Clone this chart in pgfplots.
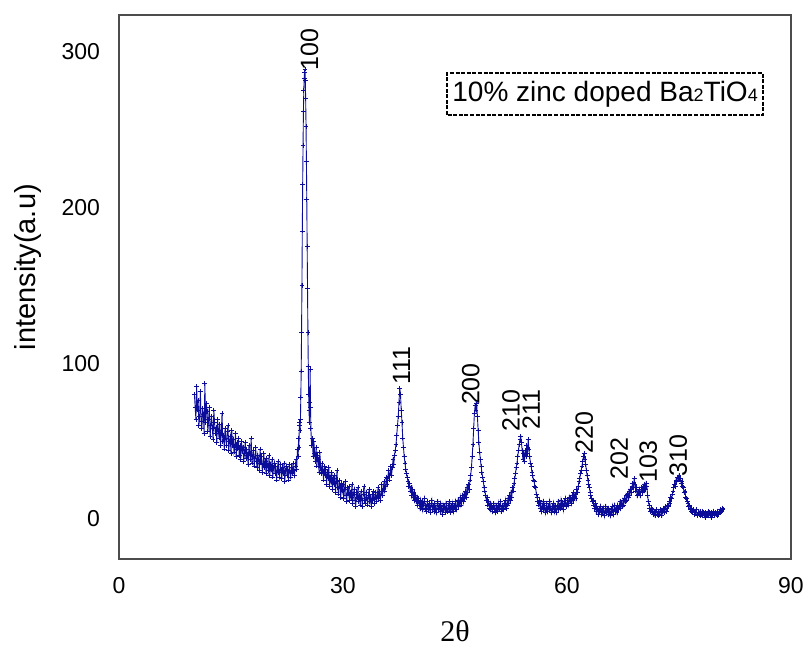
\documentclass[border=0pt]{standalone}
\usepackage{fontspec}
\setmainfont{Liberation Sans}
\newfontfamily\seriffont{Liberation Serif}
\usepackage{pgfplots}
\pgfplotsset{compat=1.18}
\definecolor{xrdblue}{RGB}{12,12,155}
\definecolor{axgray}{gray}{0.3}
\pgfplotstableread[row sep=\\]{
x y\\
10.1 80\\ 10.2 72\\ 10.3 64\\ 10.4 85\\ 10.5 70\\ 10.6 76\\ 10.7 60\\ 10.8 66\\ 10.9 82\\ 11.0 63\\
11.1 58\\ 11.2 71\\ 11.3 67\\ 11.4 55\\ 11.5 87\\ 11.6 62\\ 11.7 74\\ 11.8 69\\ 11.9 56\\ 12.0 64\\
12.1 72\\ 12.2 53\\ 12.3 60\\ 12.4 66\\ 12.5 58\\ 12.6 51\\ 12.7 70\\ 12.8 62\\ 12.9 55\\ 13.0 59\\
13.1 49\\ 13.2 64\\ 13.3 57\\ 13.4 52\\ 13.5 61\\ 13.6 47\\ 13.7 55\\ 13.8 68\\ 13.9 50\\ 14.0 54\\
14.1 45\\ 14.2 58\\ 14.3 52\\ 14.4 47\\ 14.5 56\\ 14.6 60\\ 14.7 44\\ 14.8 50\\ 14.9 53\\ 15.0 42\\
15.1 57\\ 15.2 48\\ 15.3 51\\ 15.4 43\\ 15.5 46\\ 15.6 55\\ 15.7 40\\ 15.8 49\\ 15.9 45\\ 16.0 52\\
16.1 41\\ 16.2 47\\ 16.3 38\\ 16.4 50\\ 16.5 44\\ 16.6 46\\ 16.7 37\\ 16.8 42\\ 16.9 49\\ 17.0 39\\
17.1 45\\ 17.2 41\\ 17.3 35\\ 17.4 47\\ 17.5 43\\ 17.6 38\\ 17.7 52\\ 17.8 36\\ 17.9 40\\ 18.0 44\\
18.1 34\\ 18.2 39\\ 18.3 46\\ 18.4 37\\ 18.5 33\\ 18.6 41\\ 18.7 38\\ 18.8 31\\ 18.9 45\\ 19.0 36\\
19.1 40\\ 19.2 30\\ 19.3 35\\ 19.4 42\\ 19.5 33\\ 19.6 37\\ 19.7 29\\ 19.8 39\\ 19.9 34\\ 20.0 31\\
20.1 41\\ 20.2 28\\ 20.3 35\\ 20.4 32\\ 20.5 38\\ 20.6 27\\ 20.7 33\\ 20.8 36\\ 20.9 29\\ 21.0 34\\
21.1 25\\ 21.2 31\\ 21.3 37\\ 21.4 30\\ 21.5 27\\ 21.6 35\\ 21.7 32\\ 21.8 26\\ 21.9 33\\ 22.0 29\\
22.1 36\\ 22.2 24\\ 22.3 31\\ 22.4 34\\ 22.5 28\\ 22.6 32\\ 22.7 25\\ 22.8 35\\ 22.9 30\\ 23.0 27\\
23.1 33\\ 23.2 29\\ 23.3 36\\ 23.4 31\\ 23.5 28\\ 23.6 34\\ 23.7 38\\ 23.8 32\\ 23.9 45\\ 24.0 40\\
24.05 52\\ 24.1 46\\ 24.15 60\\ 24.2 62\\ 24.25 57\\ 24.3 64\\ 24.35 78\\ 24.4 95\\ 24.45 120\\ 24.5 150\\
24.55 185\\ 24.6 215\\ 24.65 240\\ 24.7 262\\ 24.75 275\\ 24.8 283\\ 24.85 287\\ 24.9 289\\ 24.95 282\\ 25.0 270\\
25.05 252\\ 25.1 230\\ 25.15 205\\ 25.2 175\\ 25.25 148\\ 25.3 120\\ 25.35 98\\ 25.4 80\\ 25.45 70\\ 25.5 62\\
25.55 75\\ 25.6 96\\ 25.65 72\\ 25.7 58\\ 25.8 47\\ 25.9 52\\
26.0 40\\ 26.1 50\\ 26.2 42\\ 26.3 37\\ 26.4 46\\ 26.5 34\\ 26.6 41\\ 26.7 38\\ 26.8 30\\ 26.9 43\\
27.0 33\\ 27.1 29\\ 27.2 36\\ 27.3 31\\ 27.4 25\\ 27.5 34\\ 27.6 28\\ 27.7 32\\ 27.8 22\\ 27.9 30\\
28.0 26\\ 28.1 33\\ 28.2 21\\ 28.3 27\\ 28.4 24\\ 28.5 30\\ 28.6 19\\ 28.7 26\\ 28.8 22\\ 28.9 28\\
29.0 17\\ 29.1 24\\ 29.2 31\\ 29.3 20\\ 29.4 16\\ 29.5 25\\ 29.6 21\\ 29.7 14\\ 29.8 23\\ 29.9 18\\
30.0 22\\ 30.1 13\\ 30.2 19\\ 30.3 24\\ 30.4 15\\ 30.5 11\\ 30.6 20\\ 30.7 16\\ 30.8 21\\ 30.9 12\\
31.0 17\\ 31.1 14\\ 31.2 22\\ 31.3 10\\ 31.4 16\\ 31.5 19\\ 31.6 12\\ 31.7 8\\ 31.8 17\\ 31.9 14\\
32.0 20\\ 32.1 11\\ 32.2 15\\ 32.3 9\\ 32.4 18\\ 32.5 13\\ 32.6 8\\ 32.7 16\\ 32.8 21\\ 32.9 12\\
33.0 10\\ 33.1 17\\ 33.2 14\\ 33.3 9\\ 33.4 15\\ 33.5 19\\ 33.6 11\\ 33.7 13\\ 33.8 8\\ 33.9 16\\
34.0 12\\ 34.1 18\\ 34.2 10\\ 34.3 14\\ 34.4 17\\ 34.5 11\\ 34.6 15\\ 34.7 20\\ 34.8 13\\ 34.9 18\\
35.0 12\\ 35.1 16\\ 35.2 22\\ 35.3 15\\ 35.4 19\\ 35.5 24\\ 35.6 18\\ 35.7 21\\ 35.8 27\\ 35.9 22\\
36.0 26\\ 36.1 31\\ 36.2 25\\ 36.3 29\\ 36.4 34\\ 36.5 28\\ 36.6 33\\ 36.7 38\\ 36.8 35\\ 36.9 41\\
37.0 44\\ 37.1 48\\ 37.2 54\\ 37.3 60\\ 37.4 66\\ 37.5 75\\ 37.6 84\\ 37.7 80\\ 37.8 70\\ 37.9 62\\
38.0 52\\ 38.1 46\\ 38.2 40\\ 38.3 36\\ 38.4 32\\ 38.5 29\\
38.6 27\\ 38.7 24\\ 38.8 21\\ 38.9 23\\ 39.0 18\\ 39.1 20\\ 39.2 15\\ 39.3 19\\ 39.4 14\\ 39.5 17\\
39.6 12\\ 39.7 15\\ 39.8 11\\ 39.9 14\\ 40.0 9\\ 40.1 13\\ 40.2 10\\ 40.3 7\\ 40.4 12\\ 40.5 8\\
40.6 11\\ 40.7 6\\ 40.8 10\\ 40.9 13\\ 41.0 7\\ 41.1 9\\ 41.2 5\\ 41.3 11\\ 41.4 8\\ 41.5 6\\
41.6 10\\ 41.7 4\\ 41.8 9\\ 41.9 12\\ 42.0 6\\ 42.1 8\\ 42.2 5\\ 42.3 10\\ 42.4 7\\ 42.5 4\\
42.6 9\\ 42.7 11\\ 42.8 6\\ 42.9 8\\ 43.0 5\\ 43.1 10\\ 43.2 7\\ 43.3 3\\ 43.4 9\\ 43.5 6\\
43.6 8\\ 43.7 4\\ 43.8 10\\ 43.9 7\\ 44.0 5\\ 44.1 9\\ 44.2 6\\ 44.3 11\\ 44.4 4\\ 44.5 8\\
44.6 6\\ 44.7 10\\ 44.8 5\\ 44.9 9\\ 45.0 7\\ 45.1 11\\ 45.2 6\\ 45.3 9\\ 45.4 12\\ 45.5 8\\
45.6 10\\ 45.7 14\\ 45.8 9\\ 45.9 12\\ 46.0 15\\ 46.1 11\\ 46.2 16\\ 46.3 13\\ 46.4 18\\ 46.5 14\\
46.6 20\\ 46.7 17\\ 46.8 22\\ 46.9 19\\ 47.0 25\\ 47.1 28\\ 47.2 33\\ 47.3 40\\ 47.4 48\\ 47.5 58\\
47.6 68\\ 47.7 73\\ 47.8 70\\ 47.9 74\\ 48.0 66\\ 48.1 57\\ 48.2 49\\ 48.3 43\\ 48.4 38\\ 48.5 34\\
48.6 30\\ 48.7 27\\ 48.8 24\\ 48.9 20\\
49.0 18\\ 49.1 15\\ 49.2 12\\ 49.3 14\\ 49.4 9\\ 49.5 11\\ 49.6 7\\ 49.7 10\\ 49.8 6\\ 49.9 9\\
50.0 5\\ 50.1 8\\ 50.2 10\\ 50.3 6\\ 50.4 4\\ 50.5 9\\ 50.6 7\\ 50.7 5\\ 50.8 10\\ 50.9 6\\
51.0 8\\ 51.1 11\\ 51.2 5\\ 51.3 7\\ 51.4 9\\ 51.5 6\\ 51.6 10\\ 51.7 8\\ 51.8 12\\ 51.9 7\\
52.0 9\\ 52.1 13\\ 52.2 10\\ 52.3 15\\ 52.4 12\\ 52.5 17\\ 52.6 14\\ 52.7 20\\ 52.8 18\\ 52.9 23\\
53.0 26\\ 53.1 29\\ 53.2 33\\ 53.3 36\\ 53.4 40\\ 53.5 44\\ 53.6 48\\ 53.7 51\\ 53.8 53\\ 53.9 49\\
54.0 44\\ 54.1 38\\ 54.2 42\\ 54.3 37\\ 54.4 44\\ 54.5 40\\ 54.6 47\\ 54.7 42\\ 54.8 51\\ 54.9 45\\
55.0 40\\ 55.1 36\\ 55.2 34\\ 55.3 30\\ 55.4 28\\ 55.5 25\\ 55.6 24\\ 55.7 21\\ 55.8 20\\ 55.9 16\\
56.0 14\\ 56.1 11\\ 56.2 9\\ 56.3 12\\ 56.4 7\\ 56.5 10\\ 56.6 5\\ 56.7 8\\ 56.8 11\\ 56.9 6\\
57.0 9\\ 57.1 4\\ 57.2 7\\ 57.3 10\\ 57.4 5\\ 57.5 8\\ 57.6 6\\ 57.7 11\\ 57.8 7\\ 57.9 4\\
58.0 8\\ 58.1 6\\ 58.2 10\\ 58.3 5\\ 58.4 9\\ 58.5 7\\ 58.6 4\\ 58.7 8\\ 58.8 11\\ 58.9 6\\
59.0 9\\ 59.1 7\\ 59.2 12\\ 59.3 8\\ 59.4 10\\ 59.5 6\\ 59.6 11\\ 59.7 9\\ 59.8 13\\ 59.9 8\\
60.0 10\\ 60.1 12\\ 60.2 9\\ 60.3 14\\ 60.4 11\\ 60.5 13\\ 60.6 10\\ 60.7 15\\ 60.8 12\\ 60.9 17\\
61.0 14\\ 61.1 16\\ 61.2 13\\ 61.3 19\\ 61.4 17\\ 61.5 21\\ 61.6 24\\ 61.7 26\\ 61.8 29\\ 61.9 31\\
62.0 34\\ 62.1 37\\ 62.2 40\\ 62.3 42\\ 62.4 38\\ 62.5 35\\ 62.6 31\\ 62.7 28\\ 62.8 25\\ 62.9 22\\
63.0 20\\ 63.1 17\\ 63.2 15\\ 63.3 13\\ 63.4 11\\ 63.5 12\\
63.6 9\\ 63.7 7\\ 63.8 10\\ 63.9 5\\ 64.0 8\\ 64.1 6\\ 64.2 3\\ 64.3 7\\ 64.4 5\\ 64.5 8\\
64.6 3\\ 64.7 6\\ 64.8 4\\ 64.9 7\\ 65.0 2\\ 65.1 5\\ 65.2 8\\ 65.3 4\\ 65.4 6\\ 65.5 3\\
65.6 7\\ 65.7 5\\ 65.8 2\\ 65.9 6\\ 66.0 4\\ 66.1 8\\ 66.2 3\\ 66.3 6\\ 66.4 9\\ 66.5 5\\
66.6 7\\ 66.7 4\\ 66.8 9\\ 66.9 6\\ 67.0 8\\ 67.1 11\\ 67.2 7\\ 67.3 10\\ 67.4 8\\ 67.5 12\\
67.6 9\\ 67.7 13\\ 67.8 11\\ 67.9 15\\ 68.0 12\\ 68.1 16\\ 68.2 14\\ 68.3 18\\ 68.4 15\\ 68.5 19\\
68.6 17\\ 68.7 21\\ 68.8 23\\ 68.9 20\\ 69.0 26\\ 69.1 22\\ 69.2 18\\ 69.3 20\\ 69.4 15\\ 69.5 18\\
69.6 16\\ 69.7 19\\ 69.8 15\\ 69.9 18\\ 70.0 20\\ 70.1 17\\ 70.2 21\\ 70.3 18\\ 70.4 22\\ 70.5 19\\
70.6 23\\ 70.7 21\\ 70.8 15\\ 70.9 11\\ 71.0 9\\ 71.1 7\\ 71.2 5\\ 71.3 7\\ 71.4 4\\ 71.5 6\\
71.6 3\\ 71.7 5\\ 71.8 2\\ 71.9 4\\ 72.0 6\\ 72.1 3\\ 72.2 2\\ 72.3 5\\ 72.4 3\\ 72.5 6\\
72.6 4\\ 72.7 2\\ 72.8 5\\ 72.9 7\\ 73.0 4\\ 73.1 6\\ 73.2 8\\ 73.3 5\\ 73.4 7\\ 73.5 9\\
73.6 8\\ 73.7 11\\ 73.8 10\\ 73.9 14\\ 74.0 13\\ 74.1 16\\ 74.2 18\\ 74.3 20\\ 74.4 22\\ 74.5 21\\
74.6 25\\ 74.7 24\\ 74.8 27\\ 74.9 26\\ 75.0 28\\ 75.1 25\\ 75.2 26\\ 75.3 23\\ 75.4 24\\ 75.5 21\\
75.6 20\\ 75.7 17\\ 75.8 18\\ 75.9 14\\ 76.0 13\\ 76.1 11\\ 76.2 10\\ 76.3 8\\ 76.4 9\\ 76.5 6\\
76.6 7\\ 76.7 5\\ 76.8 4\\ 76.9 6\\ 77.0 5\\ 77.1 3\\ 77.2 4\\ 77.3 6\\ 77.4 3\\ 77.5 2\\
77.6 4\\ 77.7 3\\ 77.8 5\\ 77.9 2\\ 78.0 3\\ 78.1 5\\ 78.2 2\\ 78.3 4\\ 78.4 3\\ 78.5 1\\
78.6 4\\ 78.7 2\\ 78.8 3\\ 78.9 5\\ 79.0 2\\ 79.1 4\\ 79.2 3\\ 79.3 1\\ 79.4 4\\ 79.5 2\\
79.6 5\\ 79.7 3\\ 79.8 2\\ 79.9 4\\ 80.0 3\\ 80.1 2\\ 80.2 5\\ 80.3 3\\ 80.4 4\\ 80.5 6\\
80.6 4\\ 80.7 5\\ 80.8 7\\ 80.9 6\\
}\xrd
\begin{document}
\begin{tikzpicture}
\begin{axis}[
  name=ax,
  scale only axis, width=336pt, height=271.75pt,
  xmin=0, xmax=90, ymin=-25.7, ymax=323.4,
  xtick={0,30,60,90}, ytick={0,100,200,300},
  major tick length=0pt,
  axis line style={axgray, line width=1pt},
  /pgf/number format/assume math mode=true,
  ticklabel style={font=\fontsize{11.5}{13}\selectfont},
  xticklabel style={yshift=-5.5pt},
  yticklabel style={xshift=-6pt},
  xlabel={\seriffont 2θ},
  xlabel style={at={(axis description cs:0.5,-0.132)}, anchor=center, font=\fontsize{15}{16}\selectfont},
  ylabel={intensity(a.u)},
  ylabel style={at={(axis description cs:-0.1354,0.537)}, anchor=center, font=\fontsize{14.5}{16}\selectfont},
  clip=false,
]
\addplot[xrdblue, line width=0.45pt, mark=+, mark size=1.2pt, mark options={line width=0.4pt}] table {\xrd};
\begin{scope}[every node/.style={rotate=90, anchor=west, inner sep=0pt, font=\fontsize{12.5}{13}\selectfont}]
\node at (axis cs:25.5,288) {100};
\node at (axis cs:37.85,86) {111};
\node at (axis cs:47.1,73) {200};
\node at (axis cs:52.5,56) {210};
\node at (axis cs:55.2,57) {211};
\node at (axis cs:62.3,42) {220};
\node at (axis cs:67.0,25) {202};
\node at (axis cs:70.9,23) {103};
\node at (axis cs:74.9,27) {310};
\end{scope}
\draw[black, line width=1pt, dash pattern=on 2pt off 0.8pt] (axis cs:43.93,259.5) rectangle (axis cs:86.25,286.4);
\node[anchor=center, inner sep=0pt, font=\fontsize{14}{15}\selectfont] at (axis cs:65.1,273) {10\% zinc doped Ba{\fontsize{9}{10}\selectfont 2}TiO{\fontsize{9}{10}\selectfont 4}};
\end{axis}
\pgfresetboundingbox
\path[use as bounding box] ([xshift=-59.5pt,yshift=-43pt]ax.south west) rectangle ([xshift=7pt,yshift=7.75pt]ax.north east);
\end{tikzpicture}
\end{document}
